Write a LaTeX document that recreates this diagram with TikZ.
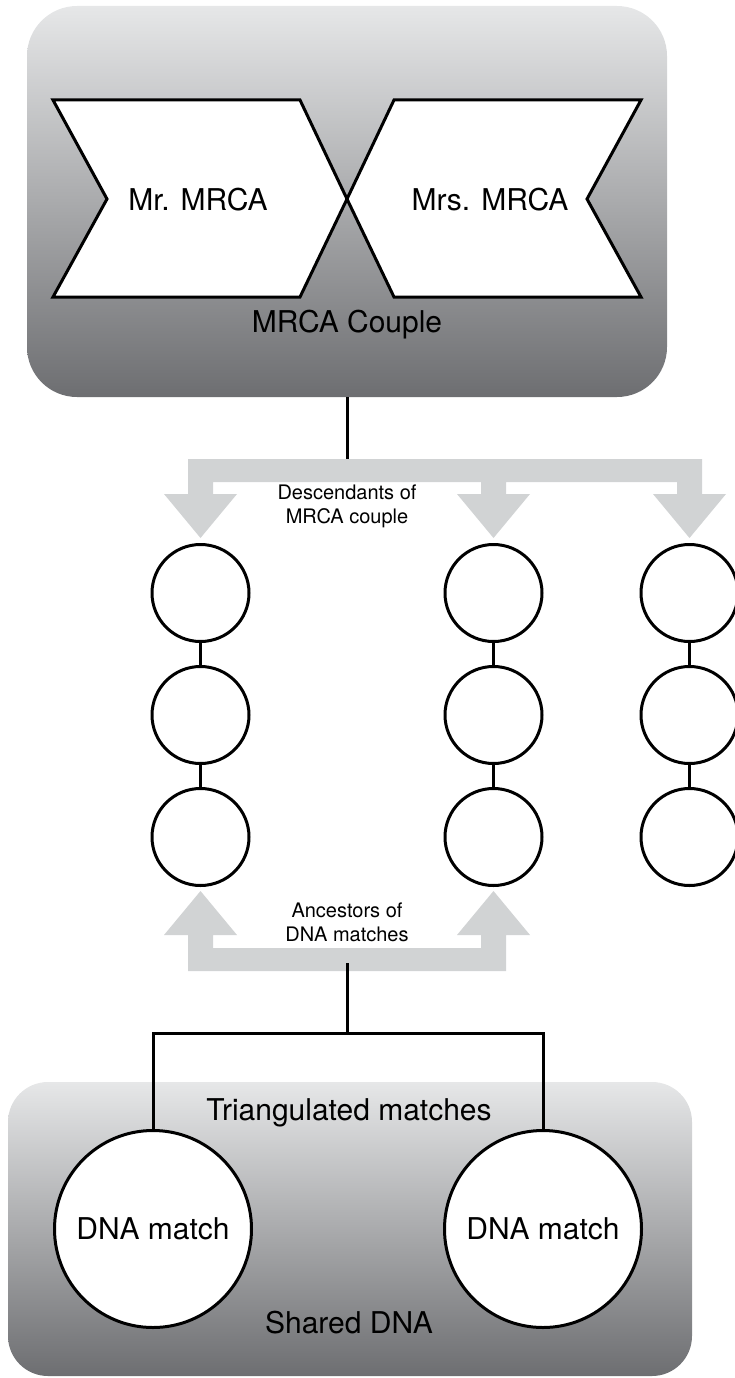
\documentclass[tikz,border=0pt]{standalone}
\usepackage{fontspec}
\setmainfont{TeX Gyre Heros}
\definecolor{boxtop}{HTML}{E6E7E8}
\definecolor{boxbot}{HTML}{6D6E71}
\definecolor{arrowgray}{HTML}{D1D3D4}
\tikzset{
  groupbox/.style={shape=rectangle, top color=boxtop, bottom color=boxbot, inner sep=0pt},
  person/.style={shape=circle, draw, line width=3pt, fill=white, minimum size=97pt, inner sep=0pt},
  match/.style={shape=circle, draw, line width=3pt, fill=white, minimum size=197pt, inner sep=0pt},
  parent/.style={draw, line width=3pt, fill=white, line join=miter},
  wire/.style={line width=3pt},
  bigtext/.style={font=\fontsize{30}{36}\selectfont},
  smalltext/.style={font=\fontsize{20}{24}\selectfont, align=center}
}
\begin{document}
\begin{tikzpicture}[x=1pt, y=-1pt]
    \useasboundingbox (0,0) rectangle (734,1378);
    \node[groupbox, rounded corners=50pt, minimum width=640pt, minimum height=391pt] (couple) at (347,201.5) {};
    \node[groupbox, rounded corners=40pt, minimum width=684pt, minimum height=294pt] (shared) at (350,1229) {};
    \draw[parent]
      (53,100) -- (300,100) -- (347,199) -- (300,297) -- (53,297) -- (107,199) -- cycle
      (394,100) -- (641,100) -- (587,199) -- (641,297) -- (394,297) -- (347,199) -- cycle;
    \node[bigtext] (mr) at (198,200) {Mr. MRCA};
    \node[bigtext] (mrs) at (490,200) {Mrs. MRCA};
    \node[bigtext] (couplename) at (347,325) {MRCA Couple};
    \fill[arrowgray]
      (188,459) -- (702,459) -- (702,494) -- (726,494) -- (689.5,538) -- (653,494) -- (677,494)
      -- (677,482) -- (506,482) -- (506,494) -- (530,494) -- (493.5,538) -- (457,494) -- (481,494)
      -- (481,482) -- (213,482) -- (213,494) -- (237,494) -- (200.5,538) -- (164,494) -- (188,494) -- cycle;
    \fill[arrowgray]
      (188,971) -- (506,971) -- (506,935) -- (530,935) -- (493.5,891) -- (457,935) -- (481,935)
      -- (481,948) -- (213,948) -- (213,935) -- (237,935) -- (200.5,891) -- (164,935) -- (188,935) -- cycle;
    \coordinate (descbar) at (347,459);
    \coordinate (ancbar) at (347,963);
    \coordinate (split) at (347,1033);
    \draw[wire] (couple.south) -- (descbar);
    \draw[wire] (ancbar) -- (split);
    \node[smalltext] (desc) at (347,506) {Descendants of\\MRCA couple};
    \node[smalltext] (anc) at (347,922) {Ancestors of\\DNA matches};
    \foreach \c/\x in {a/200.5,b/493.5,c/689.5}{
      \node[person] (\c1) at (\x,593) {};
      \node[person] (\c2) at (\x,715) {};
      \node[person] (\c3) at (\x,837) {};
      \draw[wire] (\c1) -- (\c2) (\c2) -- (\c3);
    }
    \node[bigtext] (tri) at (349,1113) {Triangulated matches};
    \node[bigtext] (dna) at (349,1323) {Shared DNA};
    \node[match] (m1) at (153,1229) {};
    \node[match] (m2) at (543,1229) {};
    \draw[wire] (m1.north) |- (split) -| (m2.north);
    \node[match, draw=none, fill=none, bigtext] at (m1) {DNA match};
    \node[match, draw=none, fill=none, bigtext] at (m2) {DNA match};
\end{tikzpicture}
\end{document}
